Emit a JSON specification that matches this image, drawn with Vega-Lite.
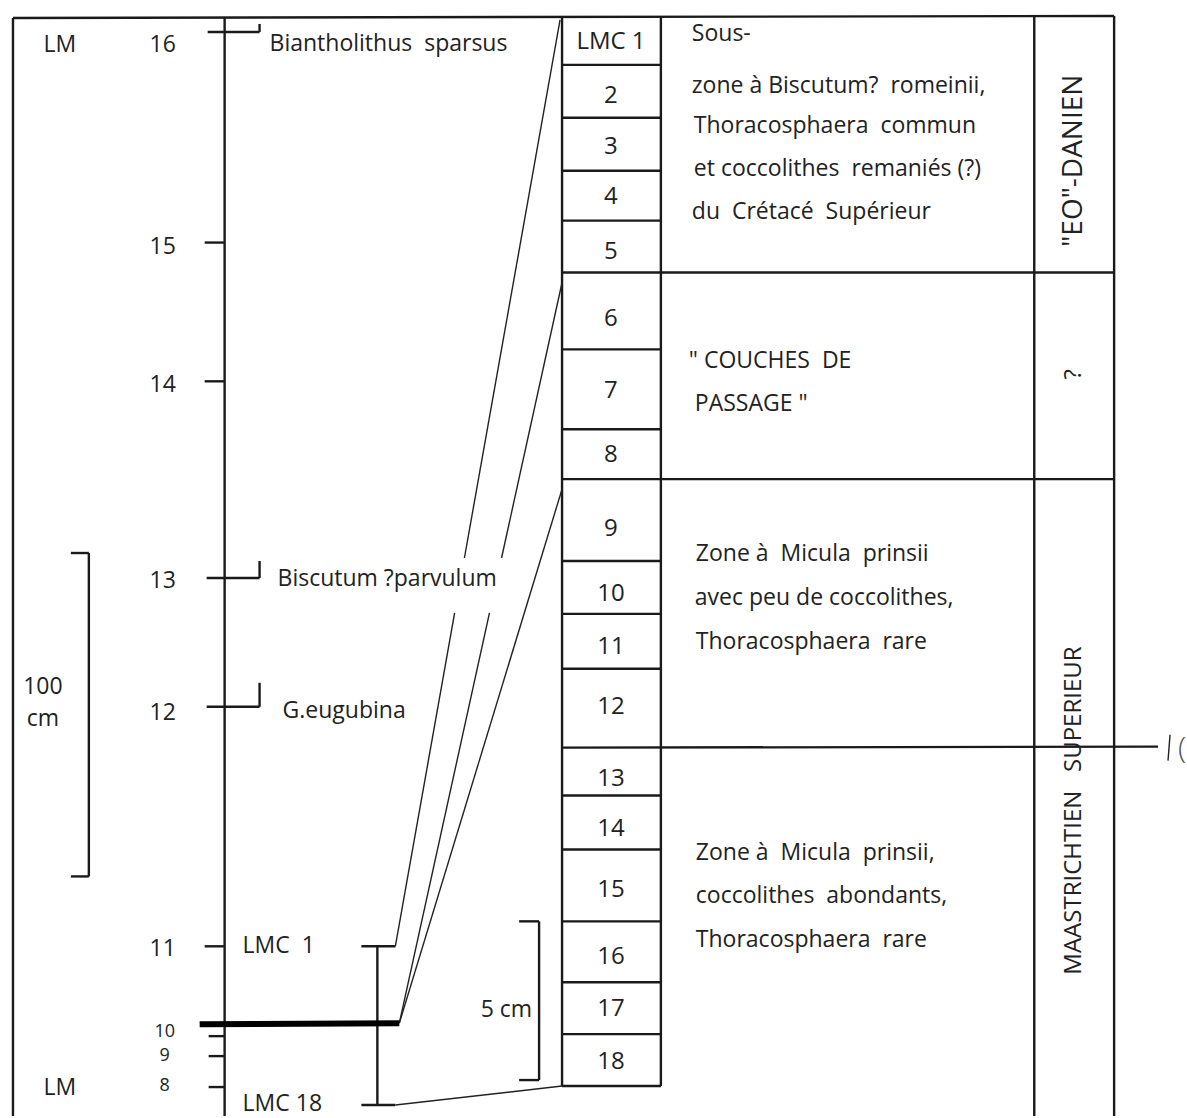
{
  "$schema": "https://vega.github.io/schema/vega-lite/v6.json",
  "width": 1187,
  "height": 1118,
  "autosize": {"type": "fit", "contains": "padding"},
  "padding": 0,
  "background": "white",
  "config": {"view": {"stroke": null}, "text": {"font": "Open Sans", "fontSize": 23, "color": "#222"}},
  "datasets": {
    "lines": [
      {"x": 13, "y": 18, "x2": 1116, "y2": 16},
      {"x": 13, "y": 18, "x2": 13, "y2": 1118},
      {"x": 1116, "y": 16, "x2": 1116, "y2": 1118},
      {"x": 225, "y": 18, "x2": 225, "y2": 1118},
      {"x": 563, "y": 17, "x2": 563, "y2": 1088},
      {"x": 662, "y": 17, "x2": 662, "y2": 1088},
      {"x": 1036, "y": 16, "x2": 1036, "y2": 1118},
      {"x": 563, "y": 65, "x2": 662, "y2": 65},
      {"x": 563, "y": 118, "x2": 662, "y2": 118},
      {"x": 563, "y": 171, "x2": 662, "y2": 171},
      {"x": 563, "y": 221, "x2": 662, "y2": 221},
      {"x": 563, "y": 273, "x2": 1116, "y2": 273},
      {"x": 563, "y": 350, "x2": 662, "y2": 350},
      {"x": 563, "y": 430, "x2": 662, "y2": 430},
      {"x": 563, "y": 480, "x2": 1116, "y2": 480},
      {"x": 563, "y": 562, "x2": 662, "y2": 562},
      {"x": 563, "y": 615, "x2": 662, "y2": 615},
      {"x": 563, "y": 670, "x2": 662, "y2": 670},
      {"x": 563, "y": 749, "x2": 1160, "y2": 748},
      {"x": 563, "y": 797, "x2": 662, "y2": 797},
      {"x": 563, "y": 851, "x2": 662, "y2": 851},
      {"x": 563, "y": 923, "x2": 662, "y2": 923},
      {"x": 563, "y": 984, "x2": 662, "y2": 984},
      {"x": 563, "y": 1036, "x2": 662, "y2": 1036},
      {"x": 563, "y": 1088, "x2": 662, "y2": 1088},
      {"x": 208, "y": 32, "x2": 260, "y2": 32},
      {"x": 260, "y": 32, "x2": 260, "y2": 24},
      {"x": 205, "y": 243, "x2": 225, "y2": 243},
      {"x": 205, "y": 382, "x2": 225, "y2": 382},
      {"x": 207, "y": 579, "x2": 260, "y2": 579},
      {"x": 260, "y": 579, "x2": 260, "y2": 562},
      {"x": 207, "y": 708, "x2": 260, "y2": 708},
      {"x": 260, "y": 708, "x2": 260, "y2": 684},
      {"x": 205, "y": 948, "x2": 225, "y2": 948},
      {"x": 209, "y": 1038, "x2": 225, "y2": 1038},
      {"x": 209, "y": 1058, "x2": 225, "y2": 1058},
      {"x": 209, "y": 1089, "x2": 225, "y2": 1089},
      {"x": 71, "y": 554, "x2": 89, "y2": 554},
      {"x": 89, "y": 554, "x2": 89, "y2": 878},
      {"x": 71, "y": 878, "x2": 89, "y2": 878},
      {"x": 362, "y": 948, "x2": 396, "y2": 948},
      {"x": 378, "y": 948, "x2": 378, "y2": 1107},
      {"x": 362, "y": 1107, "x2": 396, "y2": 1107},
      {"x": 520, "y": 923, "x2": 540, "y2": 923},
      {"x": 540, "y": 923, "x2": 540, "y2": 1082},
      {"x": 520, "y": 1082, "x2": 540, "y2": 1082}
    ],
    "thin": [
      {"x": 396, "y": 948, "x2": 455.4, "y2": 614},
      {"x": 465.2, "y": 559, "x2": 561, "y2": 20},
      {"x": 400, "y": 1025, "x2": 490.3, "y2": 614},
      {"x": 502.4, "y": 559, "x2": 563, "y2": 283},
      {"x": 400, "y": 1025, "x2": 563, "y2": 490},
      {"x": 396, "y": 1107, "x2": 563, "y2": 1088},
      {"x": 1172, "y": 736, "x2": 1170, "y2": 762}
    ],
    "thick": [
      {"x": 200, "y": 1026, "x2": 400, "y2": 1025}
    ],
    "leftText": [
      {"x": 270, "y": 44, "t": "Biantholithus\u00a0 sparsus"},
      {"x": 278, "y": 580, "t": "Biscutum ?parvulum"},
      {"x": 283, "y": 712, "t": "G.eugubina"},
      {"x": 243, "y": 948, "t": "LMC\u00a0 1"},
      {"x": 243, "y": 1106, "t": "LMC 18"},
      {"x": 693, "y": 34, "t": "Sous-"},
      {"x": 693, "y": 86, "t": "zone à Biscutum?\u00a0 romeinii,"},
      {"x": 695, "y": 126, "t": "Thoracosphaera\u00a0 commun"},
      {"x": 695, "y": 169, "t": "et coccolithes\u00a0 remaniés (?)"},
      {"x": 693, "y": 212, "t": "du\u00a0 Crétacé\u00a0 Supérieur"},
      {"x": 690, "y": 362, "t": "\" COUCHES\u00a0 DE"},
      {"x": 696, "y": 405, "t": "PASSAGE \""},
      {"x": 697, "y": 555, "t": "Zone à\u00a0 Micula\u00a0 prinsii"},
      {"x": 696, "y": 599, "t": "avec peu de coccolithes,"},
      {"x": 697, "y": 643, "t": "Thoracosphaera\u00a0 rare"},
      {"x": 697, "y": 855, "t": "Zone à\u00a0 Micula\u00a0 prinsii,"},
      {"x": 697, "y": 898, "t": "coccolithes\u00a0 abondants,"},
      {"x": 697, "y": 942, "t": "Thoracosphaera\u00a0 rare"}
    ],
    "centerText": [
      {"x": 60, "y": 45, "t": "LM"},
      {"x": 60, "y": 1090, "t": "LM"},
      {"x": 163, "y": 45, "t": "16"},
      {"x": 163, "y": 247, "t": "15"},
      {"x": 163, "y": 386, "t": "14"},
      {"x": 163, "y": 582, "t": "13"},
      {"x": 163, "y": 714, "t": "12"},
      {"x": 163, "y": 951, "t": "11"},
      {"x": 43, "y": 688, "t": "100"},
      {"x": 43, "y": 720, "t": "cm"}
    ],
    "smallText": [
      {"x": 165, "y": 1034, "t": "10"},
      {"x": 165, "y": 1058, "t": "9"},
      {"x": 165, "y": 1088, "t": "8"}
    ],
    "boxText": [
      {"x": 612, "y": 42, "t": "LMC 1"},
      {"x": 612, "y": 96, "t": "2"},
      {"x": 612, "y": 147, "t": "3"},
      {"x": 612, "y": 197, "t": "4"},
      {"x": 612, "y": 252, "t": "5"},
      {"x": 612, "y": 320, "t": "6"},
      {"x": 612, "y": 392, "t": "7"},
      {"x": 612, "y": 456, "t": "8"},
      {"x": 612, "y": 530, "t": "9"},
      {"x": 612, "y": 595, "t": "10"},
      {"x": 612, "y": 648, "t": "11"},
      {"x": 612, "y": 708, "t": "12"},
      {"x": 612, "y": 780, "t": "13"},
      {"x": 612, "y": 830, "t": "14"},
      {"x": 612, "y": 892, "t": "15"},
      {"x": 612, "y": 959, "t": "16"},
      {"x": 612, "y": 1011, "t": "17"},
      {"x": 612, "y": 1064, "t": "18"}
    ],
    "rightText": [
      {"x": 533, "y": 1012, "t": "5 cm"}
    ],
    "rotBig": [
      {"x": 1076, "y": 161, "t": "\"EO\"-DANIEN"}
    ],
    "rotText": [
      {"x": 1076, "y": 375, "t": "?"},
      {"x": 1076, "y": 812, "t": "MAASTRICHTIEN\u00a0\u00a0\u00a0SUPERIEUR"}
    ],
    "hand": [
      {"x": 1184, "y": 750, "t": "("}
    ]
  },
  "layer": [
    {
      "data": {"name": "lines"},
      "mark": {"type": "rule", "stroke": "#1a1a1a", "strokeWidth": 2.4},
      "encoding": {
        "x": {"field": "x", "type": "quantitative", "scale": {"domain": [0, 1187], "nice": false, "zero": false}, "axis": null},
        "y": {"field": "y", "type": "quantitative", "scale": {"domain": [0, 1118], "nice": false, "zero": false, "reverse": true}, "axis": null},
        "x2": {"field": "x2"},
        "y2": {"field": "y2"}
      }
    },
    {
      "data": {"name": "thin"},
      "mark": {"type": "rule", "stroke": "#222", "strokeWidth": 1.4},
      "encoding": {
        "x": {"field": "x", "type": "quantitative"},
        "y": {"field": "y", "type": "quantitative"},
        "x2": {"field": "x2"},
        "y2": {"field": "y2"}
      }
    },
    {
      "data": {"name": "thick"},
      "mark": {"type": "rule", "stroke": "#000", "strokeWidth": 6},
      "encoding": {
        "x": {"field": "x", "type": "quantitative"},
        "y": {"field": "y", "type": "quantitative"},
        "x2": {"field": "x2"},
        "y2": {"field": "y2"}
      }
    },
    {
      "data": {"name": "leftText"},
      "mark": {"type": "text", "align": "left", "baseline": "middle", "letterSpacing": 0.8},
      "encoding": {
        "x": {"field": "x", "type": "quantitative"},
        "y": {"field": "y", "type": "quantitative"},
        "text": {"field": "t"}
      }
    },
    {
      "data": {"name": "centerText"},
      "mark": {"type": "text", "align": "center", "baseline": "middle"},
      "encoding": {
        "x": {"field": "x", "type": "quantitative"},
        "y": {"field": "y", "type": "quantitative"},
        "text": {"field": "t"}
      }
    },
    {
      "data": {"name": "smallText"},
      "mark": {"type": "text", "align": "center", "baseline": "middle", "fontSize": 18},
      "encoding": {
        "x": {"field": "x", "type": "quantitative"},
        "y": {"field": "y", "type": "quantitative"},
        "text": {"field": "t"}
      }
    },
    {
      "data": {"name": "boxText"},
      "mark": {"type": "text", "align": "center", "baseline": "middle", "fontSize": 24, "letterSpacing": 1},
      "encoding": {
        "x": {"field": "x", "type": "quantitative"},
        "y": {"field": "y", "type": "quantitative"},
        "text": {"field": "t"}
      }
    },
    {
      "data": {"name": "rightText"},
      "mark": {"type": "text", "align": "right", "baseline": "middle"},
      "encoding": {
        "x": {"field": "x", "type": "quantitative"},
        "y": {"field": "y", "type": "quantitative"},
        "text": {"field": "t"}
      }
    },
    {
      "data": {"name": "rotBig"},
      "mark": {"type": "text", "align": "center", "baseline": "middle", "angle": 270, "fontSize": 28, "letterSpacing": 7.5},
      "encoding": {
        "x": {"field": "x", "type": "quantitative"},
        "y": {"field": "y", "type": "quantitative"},
        "text": {"field": "t"}
      }
    },
    {
      "data": {"name": "rotText"},
      "mark": {"type": "text", "align": "center", "baseline": "middle", "angle": 270, "fontSize": 24, "letterSpacing": 2.4},
      "encoding": {
        "x": {"field": "x", "type": "quantitative"},
        "y": {"field": "y", "type": "quantitative"},
        "text": {"field": "t"}
      }
    },
    {
      "data": {"name": "hand"},
      "mark": {"type": "text", "align": "center", "baseline": "middle", "fontSize": 30, "color": "#555", "fontWeight": 300},
      "encoding": {
        "x": {"field": "x", "type": "quantitative"},
        "y": {"field": "y", "type": "quantitative"},
        "text": {"field": "t"}
      }
    }
  ]
}
